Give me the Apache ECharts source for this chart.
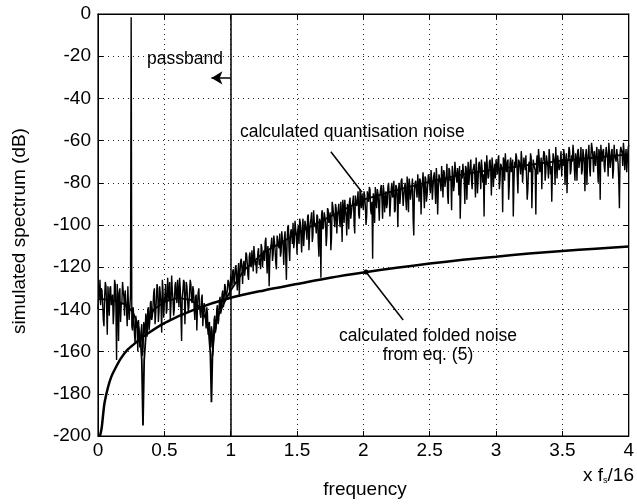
<!DOCTYPE html>
<html>
<head>
<meta charset="utf-8">
<script src="https://cdn.jsdelivr.net/npm/echarts@6/dist/echarts.min.js"></script>
<style>
html,body{margin:0;padding:0;background:#fff;}
#c{width:637px;height:504px;}
</style>
</head>
<body>
<div id="c"></div>
<script>
// ---- data ----
const xTicks = [0, 0.5, 1, 1.5, 2, 2.5, 3, 3.5, 4];
const yTicks = [0, -20, -40, -60, -80, -100, -120, -140, -160, -180, -200];

// simulated spectrum (dB): samples at f = 0, 0.01, ... 4.00
const noiseStep = 0.01;
const noiseDbA = [
-140,-133,-138,-131,-145,-134,-129,-152,-136,-130,
-138,-133,-141,-128,-164,-135,-132,-146,-137,-131,
-143,-136,-148,-139,-145,-1.5,-150,-144,-156,-147,
-160,-151,-155,-147,-158,-149,-142,-153,-139,-146,
-136,-143,-132,-147,-135,-130,-141,-133,-151,-131,
-137,-128,-140,-132,-127,-138,-131,-143,-129,-134,
-126,-139,-130,-155,-131,-127,-136,-129,-141,-132,
-128,-137,-131,-145,-133,-138,-130,-142,-135,-148,
-137,-144,-139,-152,-146,-158,-150,-155,-143,-149,
-138,-145,-134,-140,-131,-136,-129,-133,-126,-130,
-124,-129,-121,-126,-119,-131,-118,-123,-116,-128,
-117,-121,-114,-124,-115,-119,-112,-122,-114,-117,
-118,-111,-116,-109,-120,-112,-108,-115,-110,-129,
-111,-106,-114,-108,-118,-105,-110,-104,-113,-107,
-119,-103,-126,-101,-112,-105,-104,-99,-108,-102,
-114,-100,-97,-106,-101,-110,-98,-103,-96,-112,
-99,-94,-105,-98,-100,-95,-108,-97,-125,-93,
-101,-96,-110,-92,-99,-94,-106,-91,-97,-90,
-104,-93,-98,-89,-108,-92,-88,-96,-90,-102,
-87,-94,-89,-99,-86,-91,-84,-97,-88,-85,
-93,-86,-100,-84,-89,-83,-95,-116,-87,-82,
-92,-85,-98,-83,-88,-81,-94,-84,-90,-80,
-96,-83,-87,-79,-93,-82,-101,-80,-86,-78,
-91,-82,-88,-77,-94,-81,-85,-78,-105,-80,
-84,-76,-89,-79,-83,-75,-92,-78,-86,-76,
-81,-74,-88,-77,-82,-73,-95,-76,-80,-72,
-87,-75,-79,-71,-90,-74,-78,-72,-84,-70,
-77,-73,-86,-97,-74,-71,-79,-72,-88,-70,
-76,-69,-83,-73,-77,-68,-85,-71,-75,-69,
-80,-96,-72,-67,-78,-70,-74,-68,-82,-71,
-69,-76,-67,-79,-72,-94,-70,-66,-75,-69,
-81,-68,-73,-96,-70,-66,-77,-69,-72,-65,
-80,-68,-74,-67,-83,-70,-66,-92,-69,-73,
-95,-67,-64,-75,-68,-71,-65,-79,-67,-72,
-64,-76,-89,-66,-70,-63,-78,-67,-73,-65,
-69,-64,-81,-66,-71,-63,-76,-67,-62,-73,
-66,-79,-64,-70,-63,-74,-67,-84,-64,-69,
-62,-77,-61,-68,-65,-72,-63,-80,-66,-62,
-70,-64,-75,-63,-68,-61,-73,-65,-78,-62,
-67,-64,-71,-92,-63,-66,-61,-74,-64,-69,
-62
];
// simulated spectrum (dB): samples at f = 0.005, 0.015, ... 3.995
const noiseDbB = [
-135,-126,-130,-137,-148,-127,-139,-129,-143,-129,
-136,-147,-126,-139,-128,-155,-130,-138,-127,-134,
-131,-140,-129,-145,-133,-148,-139,-152,-143,-149,
-145,-158,-150,-162,-146,-152,-144,-140,-150,-137,
-145,-138,-130,-142,-128,-146,-129,-138,-126,-144,
-133,-142,-125,-136,-145,-124,-135,-140,-127,-137,
-132,-125,-142,-134,-126,-147,-127,-135,-139,-126,
-136,-129,-140,-134,-150,-132,-138,-144,-133,-141,
-140,-149,-142,-147,-154,-148,-162,-145,-151,-140,
-147,-136,-142,-133,-139,-128,-135,-131,-127,-134,
-127,-122,-128,-120,-125,-122,-134,-117,-121,-119,
-124,-113,-118,-126,-113,-120,-116,-110,-119,-123,
-113,-119,-121,-111,-114,-117,-106,-123,-113,-116,
-109,-117,-105,-112,-121,-107,-111,-115,-103,-110,
-106,-115,-108,-100,-117,-102,-109,-111,-98,-105,
-103,-109,-99,-113,-97,-104,-100,-107,-95,-103,
-97,-108,-93,-101,-104,-96,-115,-99,-95,-102,
-94,-99,-105,-93,-97,-112,-89,-95,-101,-92,
-96,-90,-101,-94,-88,-99,-93,-105,-91,-89,
-97,-91,-86,-104,-90,-88,-95,-83,-92,-89,
-84,-91,-96,-87,-82,-93,-89,-85,-99,-88,
-83,-90,-86,-81,-97,-84,-88,-92,-82,-86,
-89,-80,-85,-94,-81,-87,-83,-90,-79,-84,
-86,-80,-93,-83,-78,-88,-82,-97,-84,-79,
-87,-81,-78,-95,-80,-84,-77,-89,-81,-77,
-85,-78,-82,-75,-90,-79,-83,-76,-84,-78,
-74,-82,-77,-86,-73,-79,-93,-75,-81,-74,
-80,-76,-72,-84,-78,-75,-90,-73,-77,-81,
-72,-79,-74,-71,-87,-75,-78,-70,-83,-73,
-76,-70,-81,-73,-77,-69,-86,-72,-75,-78,
-72,-69,-83,-71,-74,-68,-79,-73,-70,-88,
-71,-75,-69,-80,-73,-68,-85,-70,-76,-69,
-74,-71,-67,-88,-72,-75,-68,-79,-71,-74,
-70,-76,-68,-73,-83,-69,-66,-75,-70,-78,
-68,-72,-75,-66,-81,-70,-67,-74,-69,-77,
-72,-67,-70,-85,-68,-65,-74,-70,-66,-79,
-69,-65,-73,-68,-76,-64,-71,-67,-81,-66,
-73,-67,-64,-75,-69,-66,-72,-64,-88,-67,
-65,-72,-68,-63,-77,-66,-70,-64,-74,-67,
-70,-64,-79,-66,-63,-72,-65,-68,-75,-64
];

// calculated quantisation noise
const qnFreq = [0, 0.1, 0.2, 0.26, 0.3, 0.32, 0.33, 0.339, 0.348, 0.36, 0.38, 0.42, 0.5, 0.6, 0.7, 0.77, 0.81, 0.835, 0.847, 0.855, 0.863, 0.875, 0.9, 0.95, 1.0, 1.1, 1.25, 1.5, 1.75, 2.0, 2.25, 2.5, 2.75, 3.0, 3.25, 3.5, 3.75, 4.0];
const qnDb   = [-135, -135.5, -137.5, -141, -147, -154, -164, -195, -164, -153, -146, -140, -136.5, -134.5, -135.5, -139, -144, -151, -161, -184, -161, -152, -144, -137, -131, -121.5, -113, -104, -96, -88, -83.5, -79.5, -76, -73.5, -71.5, -69.5, -68, -66.5];

// calculated folded noise from eq. (5)
const fnFreq = [0.015, 0.028, 0.04, 0.05, 0.075, 0.1, 0.13, 0.175, 0.225, 0.3, 0.35, 0.5, 0.73, 1.0, 1.25, 1.5, 1.75, 2.0, 2.25, 2.5, 2.75, 3.0, 3.25, 3.5, 3.75, 4.0];
const fnDb   = [-200, -196, -189, -184, -177, -172, -168, -163, -159, -155, -152.5, -146.5, -140, -134.5, -131, -128, -125, -122.5, -120.3, -118.3, -116.5, -115, -113.5, -112.3, -111.2, -110.2];

const bandEdge = 1;          // passband edge
const arrowY = -30.3;        // passband arrow level

// ---- chart ----
const noisePts = [];
noiseDbA.forEach((v, i) => {
  noisePts.push([+(i * noiseStep).toFixed(3), v]);
  if (i < noiseDbB.length) noisePts.push([+(i * noiseStep + noiseStep / 2).toFixed(3), noiseDbB[i]]);
});
const qnPts = qnFreq.map((f, i) => [f, qnDb[i]]);
const fnPts = fnFreq.map((f, i) => [f, fnDb[i]]);

const FONT = '"Liberation Sans", Arial, sans-serif';
const chart = echarts.init(document.getElementById('c'), null, {renderer: 'canvas'});

const baseX = {
  type: 'value', min: 0, max: 4, interval: 0.5,
  axisLine: {show: true, onZero: false, lineStyle: {color: '#000', width: 1}},
  axisTick: {show: true, inside: true, length: 5, lineStyle: {color: '#000'}},
};
const baseY = {
  type: 'value', min: -200, max: 0, interval: 20,
  axisLine: {show: true, onZero: false, lineStyle: {color: '#000', width: 1}},
  axisTick: {show: true, inside: true, length: 5, lineStyle: {color: '#000'}},
};

chart.setOption({
  animation: false,
  backgroundColor: '#fff',
  grid: {left: 98, right: 5, top: 14, bottom: 68, show: true, borderColor: '#000', borderWidth: 1.2, backgroundColor: 'transparent'},
  xAxis: [
    Object.assign({}, baseX, {
      position: 'bottom',
      axisLabel: {color: '#000', fontSize: 19, fontFamily: FONT, margin: 5},
      splitLine: {show: true, lineStyle: {color: '#222', width: 1, type: [1, 4]}}
    }),
    Object.assign({}, baseX, {position: 'top', axisLabel: {show: false}, splitLine: {show: false}})
  ],
  yAxis: [
    Object.assign({}, baseY, {
      position: 'left',
      axisLabel: {color: '#000', fontSize: 19, fontFamily: FONT, margin: 7},
      splitLine: {show: true, lineStyle: {color: '#222', width: 1, type: [1, 4]}}
    }),
    Object.assign({}, baseY, {position: 'right', axisLabel: {show: false}, splitLine: {show: false}})
  ],
  series: [
    {
      name: 'folded', type: 'line', data: fnPts, showSymbol: false, smooth: 0.3,
      lineStyle: {color: '#000', width: 2.5}, z: 4,
      markPoint: {
        symbol: 'circle', symbolSize: 5, itemStyle: {color: '#000'}, label: {show: false},
        data: [{coord: [2.02, -122.3]}]
      }
    },
    {
      name: 'quant', type: 'line', data: qnPts, showSymbol: false,
      lineStyle: {color: '#000', width: 1.8}, z: 2
    },
    {
      name: 'noise', type: 'line', data: noisePts, showSymbol: false, sampling: null,
      lineStyle: {color: '#000', width: 1.4}, z: 3,
      markLine: {
        silent: true, symbol: 'none', label: {show: false},
        lineStyle: {color: '#000', width: 1.5, type: 'solid'},
        data: [
          {xAxis: bandEdge},
          [{coord: [bandEdge, arrowY], symbol: 'none'}, {coord: [0.855, arrowY], symbol: 'arrow', symbolSize: [10, 11]}],
          [{coord: [1.755, -65.3]}, {coord: [1.99, -84.5]}],
          [{coord: [2.02, -122.3]}, {coord: [2.3, -145]}]
        ]
      }
    }
  ],
  graphic: [
    {type: 'text', left: 147, top: 50, style: {text: 'passband', font: '17.5px ' + FONT, fill: '#000'}},
    {type: 'text', left: 240, top: 123, style: {text: 'calculated quantisation noise', font: '17.5px ' + FONT, fill: '#000'}},
    {type: 'text', x: 428, y: 336, style: {text: 'calculated folded noise', font: '17.5px ' + FONT, fill: '#000', textAlign: 'center', textVerticalAlign: 'middle'}},
    {type: 'text', x: 428, y: 355, style: {text: 'from eq. (5)', font: '17.5px ' + FONT, fill: '#000', textAlign: 'center', textVerticalAlign: 'middle'}},
    {type: 'text', x: 365, y: 490, style: {text: 'frequency', font: '19px ' + FONT, fill: '#000', textAlign: 'center', textVerticalAlign: 'middle'}},
    {type: 'text', x: 20, y: 231, rotation: Math.PI / 2, style: {text: 'simulated spectrum (dB)', font: '19px ' + FONT, fill: '#000', textAlign: 'center', textVerticalAlign: 'middle'}},
    {type: 'text', right: 3, top: 466, style: {
      text: 'x f{s|s}/16', font: '19px ' + FONT, fill: '#000',
      rich: {s: {fontSize: 9, fontFamily: FONT, padding: [10, 0, 0, 0]}}
    }}
  ]
});
</script>
</body>
</html>
